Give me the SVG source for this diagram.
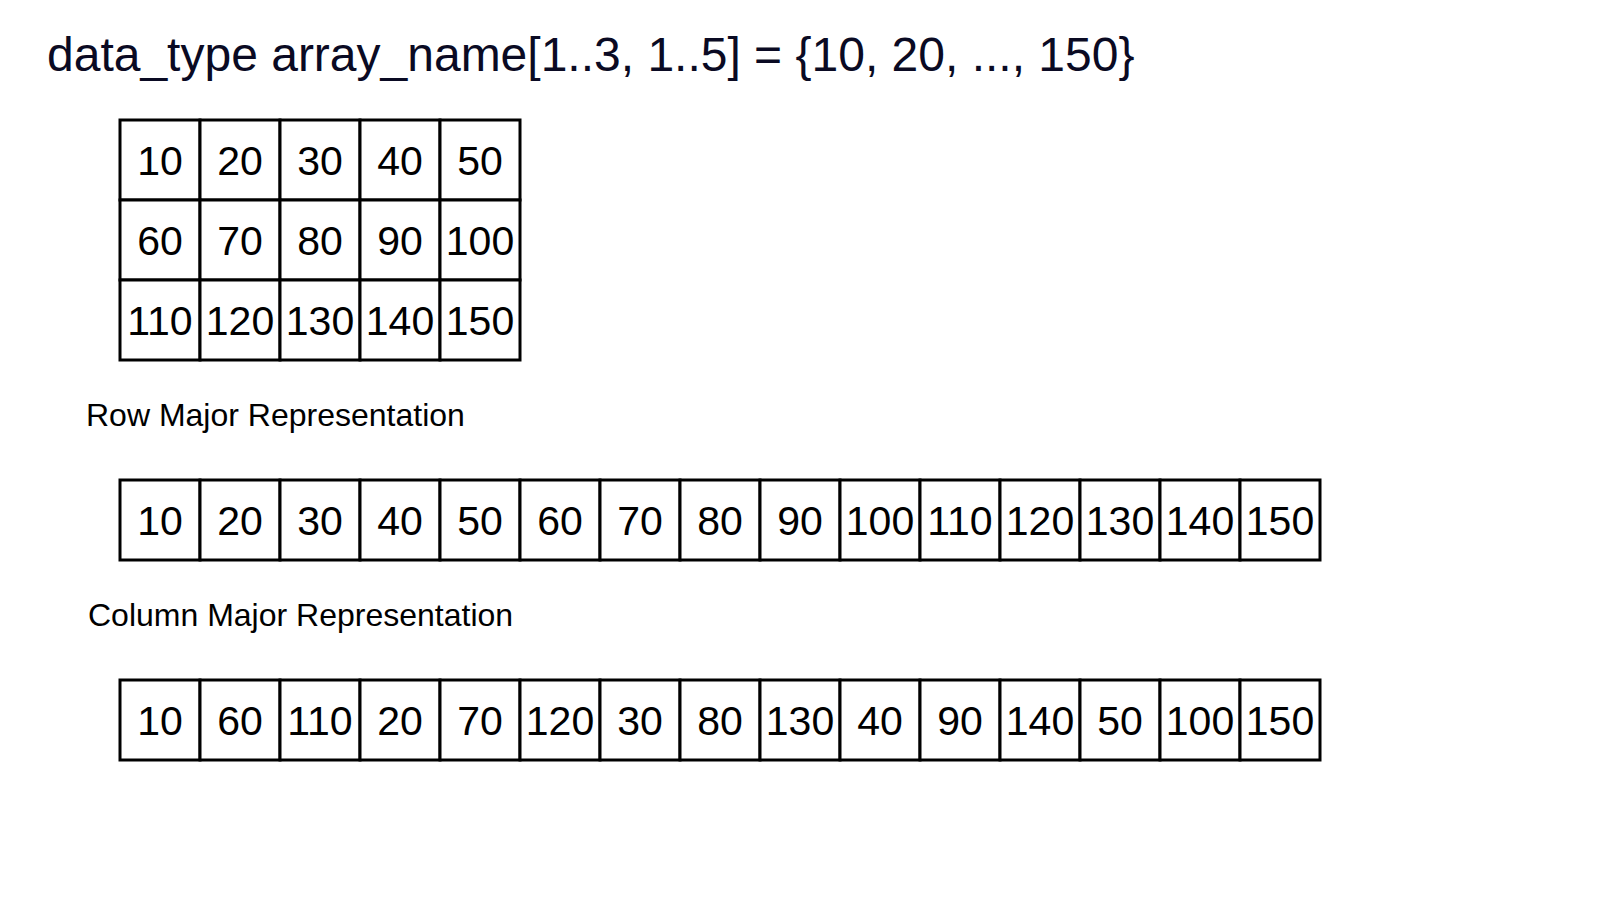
<svg xmlns="http://www.w3.org/2000/svg" width="1600" height="900" viewBox="0 0 1600 900">
<style>
.cell{fill:#fff;stroke:#000;stroke-width:3}
.v{font-family:"Liberation Sans",Arial,sans-serif;font-size:41px;fill:#000;text-anchor:middle}
.lbl{font-family:"Liberation Sans",Arial,sans-serif;font-size:32px;fill:#000}
.title{font-family:"Liberation Sans",Arial,sans-serif;font-size:48px;fill:#0a0a23}
</style>
<rect width="1600" height="900" fill="#fff"/>
<text id="title" class="title" x="47" y="71">data_type array_name[1..3, 1..5] = {10, 20, ..., 150}</text>
<g id="matrix">
<rect class="cell" x="120" y="120" width="80" height="80"/><text class="v" x="160" y="175">10</text>
<rect class="cell" x="200" y="120" width="80" height="80"/><text class="v" x="240" y="175">20</text>
<rect class="cell" x="280" y="120" width="80" height="80"/><text class="v" x="320" y="175">30</text>
<rect class="cell" x="360" y="120" width="80" height="80"/><text class="v" x="400" y="175">40</text>
<rect class="cell" x="440" y="120" width="80" height="80"/><text class="v" x="480" y="175">50</text>
<rect class="cell" x="120" y="200" width="80" height="80"/><text class="v" x="160" y="255">60</text>
<rect class="cell" x="200" y="200" width="80" height="80"/><text class="v" x="240" y="255">70</text>
<rect class="cell" x="280" y="200" width="80" height="80"/><text class="v" x="320" y="255">80</text>
<rect class="cell" x="360" y="200" width="80" height="80"/><text class="v" x="400" y="255">90</text>
<rect class="cell" x="440" y="200" width="80" height="80"/><text class="v" x="480" y="255">100</text>
<rect class="cell" x="120" y="280" width="80" height="80"/><text class="v" x="160" y="335">110</text>
<rect class="cell" x="200" y="280" width="80" height="80"/><text class="v" x="240" y="335">120</text>
<rect class="cell" x="280" y="280" width="80" height="80"/><text class="v" x="320" y="335">130</text>
<rect class="cell" x="360" y="280" width="80" height="80"/><text class="v" x="400" y="335">140</text>
<rect class="cell" x="440" y="280" width="80" height="80"/><text class="v" x="480" y="335">150</text>
</g>
<text id="row-label" class="lbl" x="86" y="426">Row Major Representation</text>
<g id="row-major">
<rect class="cell" x="120" y="480" width="80" height="80"/><text class="v" x="160" y="535">10</text>
<rect class="cell" x="200" y="480" width="80" height="80"/><text class="v" x="240" y="535">20</text>
<rect class="cell" x="280" y="480" width="80" height="80"/><text class="v" x="320" y="535">30</text>
<rect class="cell" x="360" y="480" width="80" height="80"/><text class="v" x="400" y="535">40</text>
<rect class="cell" x="440" y="480" width="80" height="80"/><text class="v" x="480" y="535">50</text>
<rect class="cell" x="520" y="480" width="80" height="80"/><text class="v" x="560" y="535">60</text>
<rect class="cell" x="600" y="480" width="80" height="80"/><text class="v" x="640" y="535">70</text>
<rect class="cell" x="680" y="480" width="80" height="80"/><text class="v" x="720" y="535">80</text>
<rect class="cell" x="760" y="480" width="80" height="80"/><text class="v" x="800" y="535">90</text>
<rect class="cell" x="840" y="480" width="80" height="80"/><text class="v" x="880" y="535">100</text>
<rect class="cell" x="920" y="480" width="80" height="80"/><text class="v" x="960" y="535">110</text>
<rect class="cell" x="1000" y="480" width="80" height="80"/><text class="v" x="1040" y="535">120</text>
<rect class="cell" x="1080" y="480" width="80" height="80"/><text class="v" x="1120" y="535">130</text>
<rect class="cell" x="1160" y="480" width="80" height="80"/><text class="v" x="1200" y="535">140</text>
<rect class="cell" x="1240" y="480" width="80" height="80"/><text class="v" x="1280" y="535">150</text>
</g>
<text id="col-label" class="lbl" x="88" y="626">Column Major Representation</text>
<g id="column-major">
<rect class="cell" x="120" y="680" width="80" height="80"/><text class="v" x="160" y="735">10</text>
<rect class="cell" x="200" y="680" width="80" height="80"/><text class="v" x="240" y="735">60</text>
<rect class="cell" x="280" y="680" width="80" height="80"/><text class="v" x="320" y="735">110</text>
<rect class="cell" x="360" y="680" width="80" height="80"/><text class="v" x="400" y="735">20</text>
<rect class="cell" x="440" y="680" width="80" height="80"/><text class="v" x="480" y="735">70</text>
<rect class="cell" x="520" y="680" width="80" height="80"/><text class="v" x="560" y="735">120</text>
<rect class="cell" x="600" y="680" width="80" height="80"/><text class="v" x="640" y="735">30</text>
<rect class="cell" x="680" y="680" width="80" height="80"/><text class="v" x="720" y="735">80</text>
<rect class="cell" x="760" y="680" width="80" height="80"/><text class="v" x="800" y="735">130</text>
<rect class="cell" x="840" y="680" width="80" height="80"/><text class="v" x="880" y="735">40</text>
<rect class="cell" x="920" y="680" width="80" height="80"/><text class="v" x="960" y="735">90</text>
<rect class="cell" x="1000" y="680" width="80" height="80"/><text class="v" x="1040" y="735">140</text>
<rect class="cell" x="1080" y="680" width="80" height="80"/><text class="v" x="1120" y="735">50</text>
<rect class="cell" x="1160" y="680" width="80" height="80"/><text class="v" x="1200" y="735">100</text>
<rect class="cell" x="1240" y="680" width="80" height="80"/><text class="v" x="1280" y="735">150</text>
</g>
<g id="connectors"></g>
</svg>
